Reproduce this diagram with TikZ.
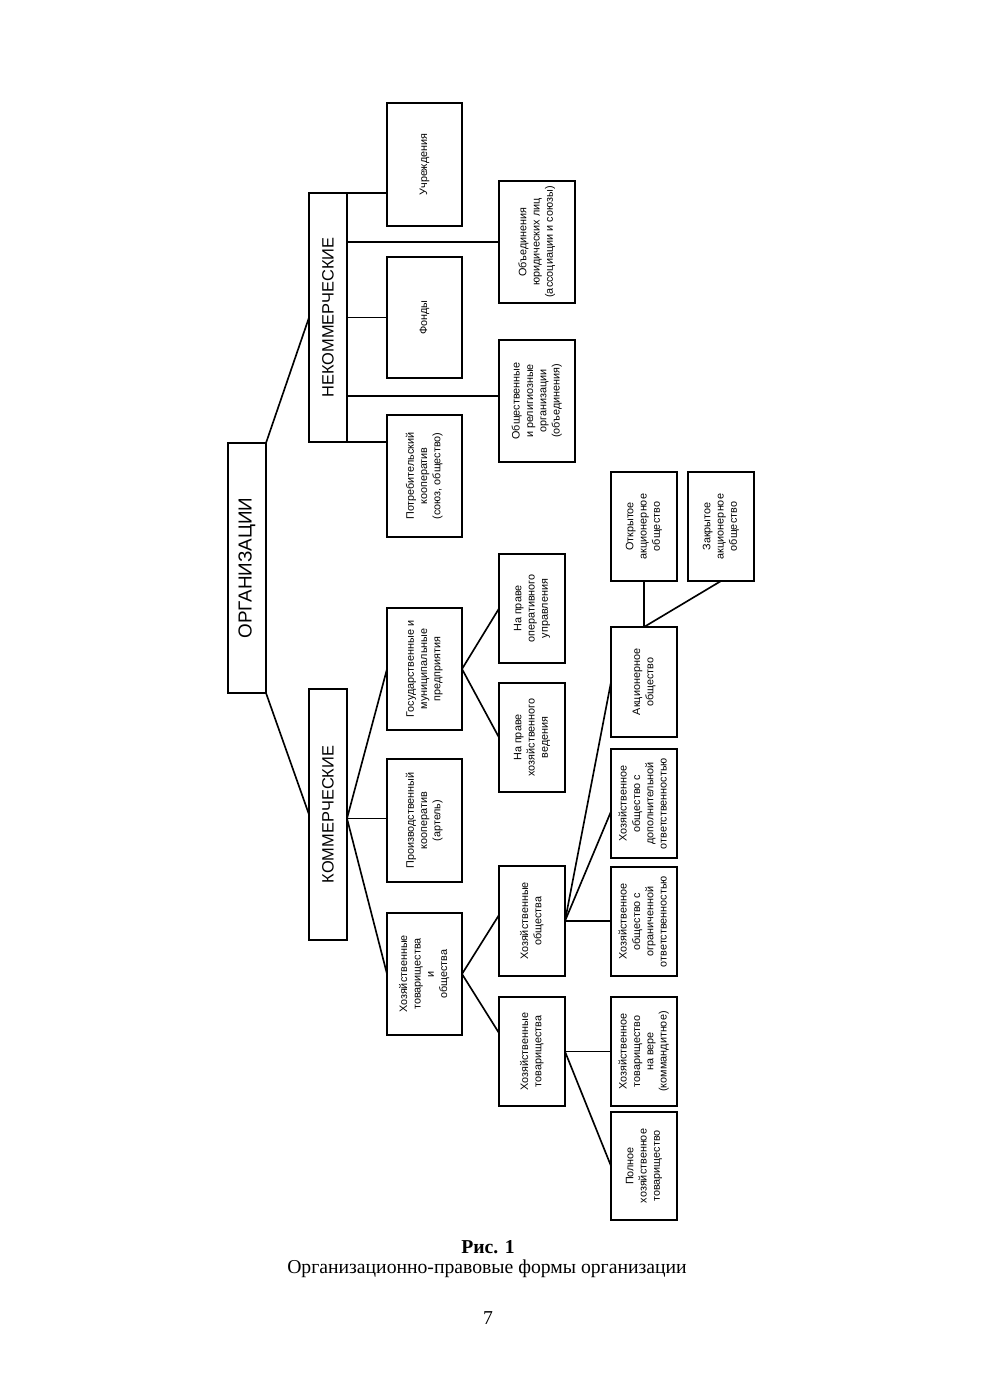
\documentclass[tikz,border=0pt]{standalone}
\usepackage{fontspec}
\usepackage{graphicx}
\setmainfont{Liberation Serif}
\newfontfamily\arialf{Liberation Sans}
\usetikzlibrary{calc}
\newcommand{\rt}[1]{\rotatebox{90}{\begin{tabular}{@{}c@{}}#1\end{tabular}}}
\tikzset{
  bx/.style 2 args={draw, line width=1.2pt, inner sep=0pt, outer sep=0pt,
    minimum width=#1*0.2143mm, minimum height=#2*0.2143mm,
    font=\arialf\fontsize{6.6}{8.1}\selectfont, align=center},
  big/.style={font=\arialf\fontsize{10}{12}\selectfont},
  lnk/.style={line width=1pt}
}
\begin{document}
\begin{tikzpicture}[x=0.2143mm, y=-0.2143mm]
\fill[white] (0,0) rectangle (980,1386);
\useasboundingbox (0,0) rectangle (980,1386);

% top level
\node[bx={38}{250}, font=\arialf\fontsize{11.5}{13}\selectfont] (org) at (247,568) {\rotatebox{90}{ОРГАНИЗАЦИИ}};
\node[bx={38}{249}, big] (nek) at (328,317.5) {\rotatebox{90}{НЕКОММЕРЧЕСКИЕ}};
\node[bx={38}{251}, big] (kom) at (328,814.5) {\rotatebox{90}{КОММЕРЧЕСКИЕ}};

% non-commercial
\node[bx={75}{123}] (uchr) at (424.5,164.5) {\rt{Учреждения}};
\node[bx={76}{122}] (obyur) at (537,242) {\rt{Объединения\\юридических лиц\\(ассоциации и союзы)}};
\node[bx={75}{121}] (fond) at (424.5,317.5) {\rt{Фонды}};
\node[bx={76}{122}] (obrel) at (537,401) {\rt{Общественные\\и религиозные\\организации\\(объединения)}};
\node[bx={75}{122}] (potreb) at (424.5,476) {\rt{Потребительский\\кооператив\\(союз, общество)}};

% commercial
\node[bx={75}{122}] (gos) at (424.5,669) {\rt{Государственные и\\муниципальные\\предприятия}};
\node[bx={75}{123}] (proizv) at (424.5,820.5) {\rt{Производственный\\кооператив\\(артель)}};
\node[bx={75}{122}] (hto) at (424.5,974) {\rt{Хозяйственные\\товарищества\\и\\общества}};

\node[bx={66}{109}] (oper) at (532,608.5) {\rt{На праве\\оперативного\\управления}};
\node[bx={66}{109}] (vedenie) at (532,737.5) {\rt{На праве\\хозяйственного\\ведения}};
\node[bx={66}{110}] (hobsh) at (532,921) {\rt{Хозяйственные\\общества}};
\node[bx={66}{109}] (htov) at (532,1051.5) {\rt{Хозяйственные\\товарищества}};

\node[bx={66}{109}] (otkr) at (644,526.5) {\rt{Открытое\\акционерное\\общество}};
\node[bx={66}{109}] (zakr) at (721,526.5) {\rt{Закрытое\\акционерное\\общество}};
\node[bx={66}{110}] (ao) at (644,682) {\rt{Акционерное\\общество}};
\node[bx={66}{109}] (dop) at (644,803.5) {\rt{Хозяйственное\\общество с\\дополнительной\\ответственностью}};
\node[bx={66}{109}] (ogr) at (644,921.5) {\rt{Хозяйственное\\общество с\\ограниченной\\ответственностью}};
\node[bx={66}{109}] (vera) at (644,1051.5) {\rt{Хозяйственное\\товарищество\\на вере\\(коммандитное)}};
\node[bx={66}{108}] (poln) at (644,1166) {\rt{Полное\\хозяйственное\\товарищество}};

% connectors
\draw[lnk] (org.north east) -- (nek.west);
\draw[lnk] (org.south east) -- (kom.west);

\draw[lnk] (nek.north east) -- (nek.north east -| uchr.west);
\draw[lnk] (nek.east |- obyur.west) -- (obyur.west);
\draw[lnk] (nek.east |- fond.west) -- (fond.west);
\coordinate (obrelIn) at ($(obrel.west)+(0,-5)$);
\draw[lnk] (nek.east |- obrelIn) -- (obrelIn);
\draw[lnk] (nek.south east) -- (nek.south east -| potreb.west);

\coordinate (kf) at ($(kom.east)+(0,4)$);
\draw[lnk] (kf) -- (gos.west);
\draw[lnk] (kf) -- (kf -| proizv.west);
\draw[lnk] (kf) -- (hto.west);

\draw[lnk] (gos.east) -- (oper.west);
\draw[lnk] (gos.east) -- (vedenie.west);

\coordinate (hobshIn) at ($(hobsh.north west)+(0,49)$);
\coordinate (htovIn) at ($(htov.north west)+(0,36)$);
\draw[lnk] (hto.east) -- (hobshIn);
\draw[lnk] (hto.east) -- (htovIn);

\coordinate (dopIn) at ($(dop.west)+(0,8)$);
\draw[lnk] (hobsh.east) -- (ao.west);
\draw[lnk] (hobsh.east) -- (dopIn);
\draw[lnk] (hobsh.east) -- (hobsh.east -| ogr.west);

\draw[lnk] (htov.east) -- (htov.east -| vera.west);
\draw[lnk] (htov.east) -- (poln.west);

\draw[lnk] (ao.north) -- (otkr.south);
\draw[lnk] (ao.north) -- (zakr.south);

% caption
\node[anchor=base, font=\fontsize{12}{14}\selectfont\bfseries] (ris) at (488,1253) {Рис. 1};
\node[anchor=base, font=\fontsize{12}{14}\selectfont] (cap) at (487,1273) {Организационно-правовые формы организации};
\node[anchor=base, font=\fontsize{12}{14}\selectfont] (pg) at (488,1324) {7};
\end{tikzpicture}
\end{document}
